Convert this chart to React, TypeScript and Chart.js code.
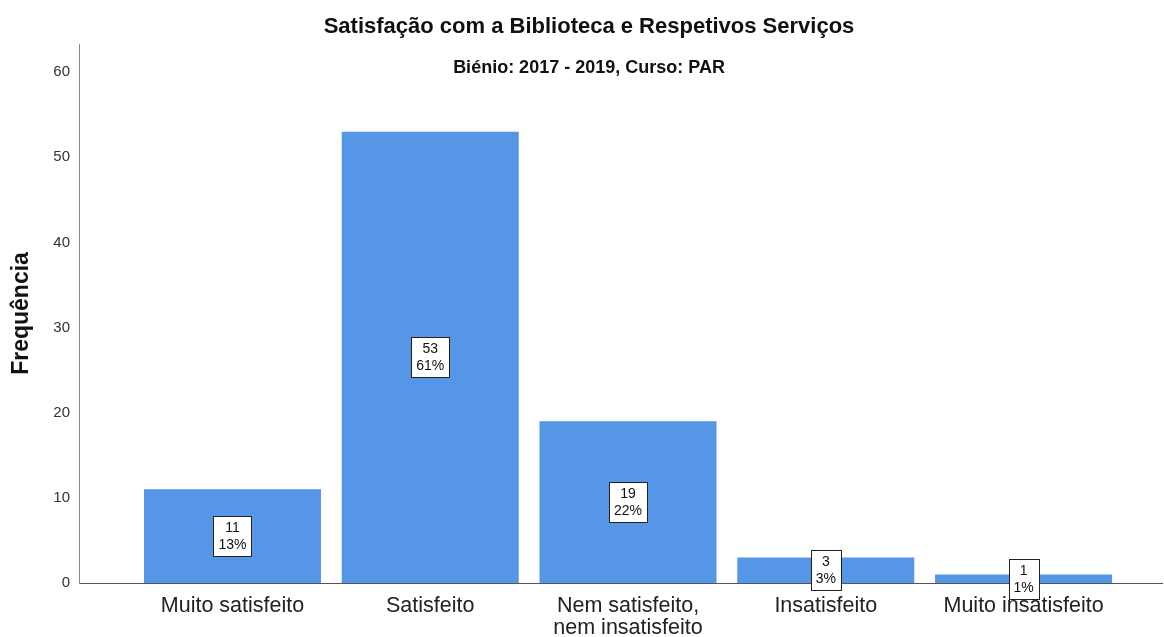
import React, { useEffect, useRef } from "react";
import { Chart, registerables } from "chart.js";

Chart.register(...registerables);

const categories: (string | string[])[] = [
  "Muito satisfeito",
  "Satisfeito",
  ["Nem satisfeito,", "nem insatisfeito"],
  "Insatisfeito",
  "Muito insatisfeito",
];
const counts = [11, 53, 19, 3, 1];
const percents = ["13%", "61%", "22%", "3%", "1%"];
const yTicks = [0, 10, 20, 30, 40, 50, 60];

const TITLE = "Satisfação com a Biblioteca e Respetivos Serviços";
const SUBTITLE = "Biénio: 2017 - 2019, Curso: PAR";
const Y_TITLE = "Frequência";

const FONT = "Arial, 'Liberation Sans', sans-serif";

const titlePlugin = {
  id: "titles",
  afterDraw(chart: any) {
    const ctx = chart.ctx;
    ctx.save();
    ctx.fillStyle = "#111";
    ctx.textAlign = "center";
    ctx.textBaseline = "middle";
    ctx.font = `bold 22px ${FONT}`;
    ctx.fillText(TITLE, 589, 27);
    ctx.font = `bold 18px ${FONT}`;
    ctx.fillText(SUBTITLE, 589, 68);
    ctx.restore();
  },
};

const labelPlugin = {
  id: "boxLabels",
  afterDatasetsDraw(chart: any) {
    const ctx = chart.ctx;
    const meta = chart.getDatasetMeta(0);
    ctx.save();
    ctx.font = `14px ${FONT}`;
    meta.data.forEach((bar: any, i: number) => {
      const cx = bar.x;
      const cy = (bar.y + bar.base) / 2;
      const l1 = String(counts[i]);
      const l2 = percents[i];
      const w = Math.round(Math.max(ctx.measureText(l1).width, ctx.measureText(l2).width) + 10);
      const h = 40;
      const x0 = Math.round(cx - w / 2) + 0.5;
      const y0 = Math.round(cy - h / 2) + 0.5;
      ctx.fillStyle = "#ffffff";
      ctx.fillRect(x0, y0, w, h);
      ctx.strokeStyle = "#222";
      ctx.lineWidth = 1;
      ctx.strokeRect(x0, y0, w, h);
      ctx.fillStyle = "#111";
      ctx.textAlign = "center";
      ctx.textBaseline = "middle";
      ctx.fillText(l1, cx, cy - 8);
      ctx.fillText(l2, cx, cy + 9);
    });
    ctx.restore();
  },
};

export default function App() {
  const ref = useRef<HTMLCanvasElement>(null);
  useEffect(() => {
    if (!ref.current) return;
    const chart = new Chart(ref.current, {
      type: "bar",
      data: {
        datasets: [
          {
            data: counts.map((v, i) => ({ x: i, y: v })),
            backgroundColor: "#5596E6",
            borderWidth: 0,
            barPercentage: 0.895,
            categoryPercentage: 1,
          },
        ],
      },
      plugins: [titlePlugin, labelPlugin],
      options: {
        animation: false,
        responsive: false,
        maintainAspectRatio: false,
        layout: { padding: { top: 44, right: 2, left: 0, bottom: 0 } },
        plugins: {
          legend: { display: false },
          tooltip: { enabled: false },
          title: { display: false },
        },
        scales: {
          x: {
            type: "linear",
            offset: false,
            min: -0.776,
            max: 4.7,
            grid: { display: false, drawTicks: false },
            border: { display: true, color: "#555", width: 1 },
            afterFit: (s: any) => {
              s.height = 54;
            },
            afterBuildTicks: (s: any) => {
              s.ticks = categories.map((_, i) => ({ value: i }));
            },
            ticks: {
              stepSize: 1,
              includeBounds: false,
              autoSkip: false,
              maxRotation: 0,
              minRotation: 0,
              padding: 12,
              color: "#222",
              font: { family: FONT, size: 21.5, lineHeight: 1.03 },
              callback: (v: any) => {
                const n = Number(v);
                return Number.isInteger(n) && n >= 0 && n < categories.length
                  ? (categories[n] as any)
                  : "";
              },
            },
          },
          y: {
            min: 0,
            max: 63.3,
            grid: { display: false, drawTicks: false },
            border: { display: true, color: "#8a8a8a", width: 1 },
            afterFit: (s: any) => {
              s.width = 79;
            },
            afterBuildTicks: (s: any) => {
              s.ticks = yTicks.map((v) => ({ value: v }));
            },
            ticks: {
              padding: 9,
              color: "#333",
              font: { family: FONT, size: 15 },
            },
            title: {
              display: true,
              text: Y_TITLE,
              color: "#111",
              font: { family: FONT, size: 23, weight: "bold" },
              padding: { top: 8, bottom: 0 },
            },
          },
        },
      } as any,
    });
    return () => chart.destroy();
  }, []);
  return (
    <div style={{ position: "fixed", left: 0, top: 0, width: 1164, height: 637, background: "#fff" }}>
      <canvas ref={ref} width={1164} height={637} style={{ width: 1164, height: 637 }} />
    </div>
  );
}
